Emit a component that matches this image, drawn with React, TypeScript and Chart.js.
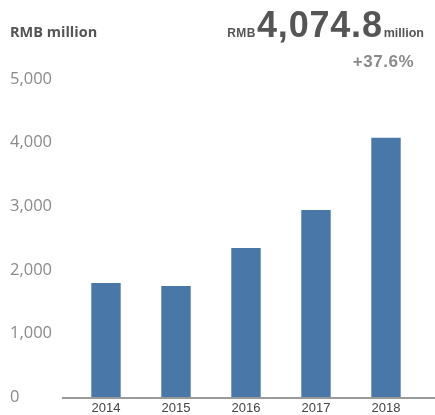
import React, { useEffect, useRef } from "react";
import { Chart, registerables } from "chart.js";

Chart.register(...registerables);

const categories = ["2014", "2015", "2016", "2017", "2018"];
const revenue = [1792, 1745, 2343, 2940, 4074.8];
const yTicks = [0, 1000, 2000, 3000, 4000, 5000];
const unitLabel = "RMB million";
const headlinePrefix = "RMB";
const headlineValue = "4,074.8";
const headlineSuffix = "million";
const growthLabel = "+37.6%";

const textPlugin = {
  id: "texts",
  afterDraw(chart: any) {
    const ctx = chart.ctx;
    ctx.save();
    const y0 = chart.scales.y.getPixelForValue(0);
    ctx.strokeStyle = "#9a9a9a";
    ctx.lineWidth = 2;
    ctx.beginPath();
    ctx.moveTo(62, y0 + 1);
    ctx.lineTo(435, y0 + 1);
    ctx.stroke();

    ctx.textBaseline = "alphabetic";
    ctx.textAlign = "left";
    ctx.fillStyle = "#555555";
    ctx.font = "bold 14.5px 'Open Sans', sans-serif";
    ctx.fillText(unitLabel, 10, 37);

    const bigFont = "bold 36px 'Liberation Sans', Arial, sans-serif";
    const smallFont = "bold 12px 'Liberation Sans', Arial, sans-serif";
    const sufFont = "bold 12.5px 'Liberation Sans', Arial, sans-serif";
    ctx.font = smallFont;
    ctx.letterSpacing = "0.5px";
    const wPre = ctx.measureText(headlinePrefix).width;
    ctx.font = bigFont;
    ctx.letterSpacing = "0.8px";
    const wBig = ctx.measureText(headlineValue).width;
    ctx.font = sufFont;
    ctx.letterSpacing = "0px";
    const wSuf = ctx.measureText(headlineSuffix).width;
    const right = 424;
    let x = right - wSuf - wBig - wPre - 2;
    ctx.fillStyle = "#555555";
    ctx.font = smallFont;
    ctx.letterSpacing = "0.5px";
    ctx.fillText(headlinePrefix, x, 37);
    x += wPre + 1;
    ctx.font = bigFont;
    ctx.letterSpacing = "0.8px";
    ctx.fillText(headlineValue, x, 37);
    x += wBig + 1;
    ctx.font = sufFont;
    ctx.letterSpacing = "0px";
    ctx.fillText(headlineSuffix, x, 37);

    ctx.textAlign = "right";
    ctx.fillStyle = "#8a8a8a";
    ctx.font = "bold 17px 'Liberation Sans', Arial, sans-serif";
    ctx.letterSpacing = "0.5px";
    ctx.fillText(growthLabel, 414, 67);
    ctx.restore();
  },
};

export default function App() {
  const ref = useRef<HTMLCanvasElement>(null);
  useEffect(() => {
    document.body.style.margin = "0";
    const chart = new Chart(ref.current!, {
      type: "bar",
      data: {
        labels: categories,
        datasets: [
          {
            data: revenue,
            backgroundColor: "#4877a8",
            barPercentage: 0.42,
            categoryPercentage: 1,
          },
        ],
      },
      options: {
        animation: false,
        responsive: false,
        maintainAspectRatio: false,
        layout: { padding: { left: 10, right: 14, top: 79, bottom: 0 } },
        plugins: { legend: { display: false }, tooltip: { enabled: false } },
        scales: {
          x: {
            grid: { display: false, drawTicks: false },
            border: { display: false },
            ticks: {
              color: "#444444",
              font: { family: "'Liberation Sans', Arial, sans-serif", size: 13 },
              padding: 4,
            },
            afterFit: (s: any) => {
              s.height = 18;
            },
          },
          y: {
            min: 0,
            max: 5000,
            grid: { display: false, drawTicks: false },
            border: { display: false },
            afterBuildTicks: (s: any) => {
              s.ticks = yTicks.map((v) => ({ value: v }));
            },
            ticks: {
              color: "#8a8a8a",
              font: { family: "'Open Sans', sans-serif", size: 16.5 },
              crossAlign: "far",
              padding: 0,
              callback: (v: any) => Number(v).toLocaleString("en-US"),
            },
            afterFit: (s: any) => {
              s.width = 61;
            },
          },
        },
      },
      plugins: [textPlugin],
    });
    return () => chart.destroy();
  }, []);
  return (
    <div style={{ position: "absolute", left: 0, top: 0, width: 435, height: 415 }}>
      <canvas ref={ref} width={435} height={415} style={{ width: 435, height: 415 }} />
    </div>
  );
}
